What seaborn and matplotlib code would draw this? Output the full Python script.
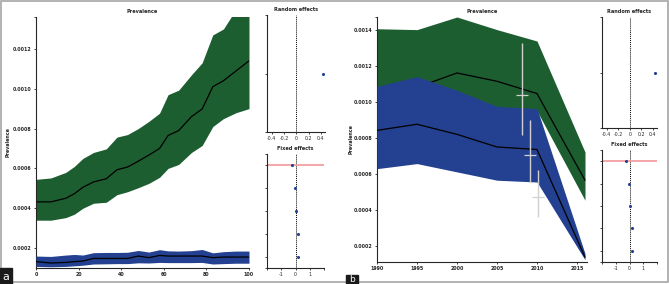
import matplotlib
matplotlib.use("Agg")
import matplotlib.pyplot as plt
import matplotlib.patches as patches
import pandas as pd
import seaborn as sns

# ---- panel a: prevalence over time (index 0-100)
a_x = [0, 7, 14, 18, 22, 27, 33, 38, 43, 48, 53, 58, 62, 67, 73, 78, 83, 88, 94, 100]
a_green_mid = [0.000432, 0.000432, 0.00045, 0.000473, 0.000505, 0.000532, 0.000548, 0.000593,
               0.000607, 0.000636, 0.000667, 0.0007, 0.000765, 0.00079, 0.00086, 0.000898,
               0.00101, 0.00104, 0.00109, 0.00114]
a_green_hi = [0.000545, 0.000552, 0.00058, 0.00061, 0.00065, 0.00068, 0.000698, 0.000757,
              0.00077, 0.0008, 0.000836, 0.000877, 0.00097, 0.000993, 0.00107, 0.00113,
              0.00127, 0.0013, 0.0014, 0.00145]
a_green_lo = [0.00034, 0.00034, 0.000353, 0.00037, 0.0004, 0.000425, 0.00043, 0.000468,
              0.000483, 0.000503, 0.000525, 0.000555, 0.0006, 0.00062, 0.00068, 0.000715,
              0.00081, 0.00085, 0.00088, 0.0009]
a_blue_mid = [0.000132, 0.000125, 0.000128, 0.000132, 0.000135, 0.000148, 0.000148, 0.000148,
              0.000148, 0.00016, 0.000152, 0.000163, 0.00016, 0.00016, 0.00016, 0.00016,
              0.000152, 0.000155, 0.000155, 0.000155]
a_blue_hi = [0.00016, 0.000158, 0.000165, 0.000168, 0.000165, 0.000177, 0.000178, 0.000178,
             0.000179, 0.000188, 0.00018, 0.000192, 0.000186, 0.000185, 0.000187, 0.000193,
             0.000176, 0.000182, 0.000185, 0.000185]
a_blue_lo = [0.000108, 0.000106, 0.000108, 0.000111, 0.000114, 0.00012, 0.000121, 0.000122,
             0.000122, 0.000126, 0.000125, 0.000128, 0.000127, 0.000127, 0.000127, 0.000128,
             0.00012, 0.000122, 0.000124, 0.000124]

# ---- panel b: prevalence by year
b_years = [1990, 1995, 2000, 2005, 2010, 2016]
b_green_mid = [0.00104, 0.00108, 0.00116, 0.001114, 0.001046, 0.000566]
b_green_hi = [0.001405, 0.0014, 0.00147, 0.0014, 0.001337, 0.000722]
b_green_lo = [0.001, 0.00103, 0.001, 0.00096, 0.00095, 0.000455]
b_blue_mid = [0.000842, 0.000876, 0.00082, 0.00075, 0.000736, 0.00014]
b_blue_hi = [0.001086, 0.00114, 0.001064, 0.000975, 0.000963, 0.00016]
b_blue_lo = [0.00063, 0.000658, 0.000612, 0.000566, 0.000556, 0.000125]
obs_years = [2008.1, 2009.1, 2010.1]
obs_est = [0.001036, 0.000704, 0.000473]
obs_lo = [0.000815, 0.000556, 0.00036]
obs_hi = [0.001326, 0.000898, 0.000625]

# ---- forest plots (same in both panels)
random_est = [0.44]
random_row = [1]
fixed_est = [-0.24, -0.05, 0.05, 0.17, 0.17]
fixed_row = [5, 4, 3, 2, 1]
fixed_lo = [-3.0, -0.1, 0.0, 0.12, 0.12]
fixed_hi = [3.0, 0.0, 0.1, 0.22, 0.22]

GREEN = "#1d5e31"
BLUE = "#234190"
FS = 3.4

sns.set_style("ticks")
plt.rcParams["font.family"] = ["DejaVu Sans"]
plt.rcParams["axes.linewidth"] = 0.8
plt.rcParams["xtick.major.size"] = 1.6
plt.rcParams["ytick.major.size"] = 1.6
plt.rcParams["xtick.major.width"] = 0.6
plt.rcParams["ytick.major.width"] = 0.6
plt.rcParams["xtick.major.pad"] = 1.5
plt.rcParams["ytick.major.pad"] = 1.5

W, H = 669, 284
fig = plt.figure(figsize=(W / 100, H / 100), dpi=100)


def px_axes(x0, y0, x1, y1):
    return fig.add_axes([x0 / W, 1 - y1 / H, (x1 - x0) / W, (y1 - y0) / H])


def style(ax):
    sns.despine(ax=ax)
    for lab in ax.get_xticklabels() + ax.get_yticklabels():
        lab.set_fontsize(FS)


def main_plot(ax, x, g_mid, g_lo, g_hi, b_mid, b_lo, b_hi, ylim, xlim):
    # draw order: green band, green line, blue band (covers green line), blue line
    ax.fill_between(x, g_lo, g_hi, color=GREEN, lw=0, zorder=1)
    sns.lineplot(x=x, y=g_mid, ax=ax, color="black", lw=0.9, zorder=2)
    ax.fill_between(x, b_lo, b_hi, color=BLUE, lw=0, zorder=3)
    sns.lineplot(x=x, y=b_mid, ax=ax, color="black", lw=0.9, zorder=4)
    ax.set_xlim(*xlim)
    ax.set_ylim(*ylim)
    ax.set_title("Prevalence", fontsize=FS + 0.2, fontweight="bold", pad=3)
    ax.set_ylabel("Prevalence", fontsize=FS, fontweight="bold")
    ticks = [0.0002, 0.0004, 0.0006, 0.0008, 0.0010, 0.0012]
    if ylim[1] > 0.00142:
        ticks.append(0.0014)
    ax.set_yticks(ticks + [ylim[1]])
    ax.set_yticklabels([f"{t:.4f}" for t in ticks] + [""], fontweight="bold")
    style(ax)
    for lab in ax.get_xticklabels():
        lab.set_fontweight("bold")


def forest(ax_r, ax_f):
    ax_r.axvline(0, color="black", ls=(0, (1, 1)), lw=0.7)
    ax_r.errorbar(random_est, random_row, xerr=0.02, fmt="none", ecolor=BLUE, elinewidth=0.7)
    sns.scatterplot(x=random_est, y=random_row, ax=ax_r, color=BLUE, s=5, linewidth=0, zorder=3)
    ax_r.set_xlim(-0.48, 0.47)
    ax_r.set_ylim(0, 2)
    ax_r.set_yticks([0, 1, 2])
    ax_r.set_yticklabels([])
    ax_r.set_xticks([-0.4, -0.2, 0, 0.2, 0.4])
    ax_r.set_xticklabels(["-0.4", "-0.2", "0", "0.2", "0.4"])
    ax_r.set_title("Random effects", fontsize=FS + 0.2, fontweight="bold", pad=3)
    style(ax_r)

    ax_f.axvline(0, color="black", ls=(0, (1, 1)), lw=0.7)
    for est, row, lo, hi in zip(fixed_est, fixed_row, fixed_lo, fixed_hi):
        wide = hi - lo > 1
        ax_f.hlines(row, lo, hi, color="#f2a0a0" if wide else BLUE, lw=1.3 if wide else 0.7)
    sns.scatterplot(x=fixed_est, y=fixed_row, ax=ax_f, color=BLUE, s=5, linewidth=0, zorder=3)
    ax_f.set_xlim(-2, 2)
    ax_f.set_ylim(0.5, 5.5)
    ax_f.set_yticks([0.5, 1, 2, 3, 4, 5, 5.5])
    ax_f.set_yticklabels([])
    ax_f.set_xticks([-2, -1, 0, 1, 2])
    ax_f.set_xticklabels(["", "-1", "0", "1", ""])
    ax_f.set_title("Fixed effects", fontsize=FS + 0.2, fontweight="bold", pad=3)
    style(ax_f)


# panel a
ax_a = px_axes(36, 17, 249, 268)
main_plot(ax_a, a_x, a_green_mid, a_green_lo, a_green_hi,
          a_blue_mid, a_blue_lo, a_blue_hi, (0.0001, 0.00136), (0, 100))
ax_a.set_xticks([0, 20, 40, 60, 80, 100])
ax_a.set_xticklabels(["0", "20", "40", "60", "80", "100"], fontsize=FS, fontweight="bold")
ax_a.yaxis.set_label_coords(-0.12, 0.5)
forest(px_axes(267, 15, 325, 132), px_axes(267, 154, 324, 268))

# panel b
ax_b = px_axes(377, 17, 587, 262)
main_plot(ax_b, b_years, b_green_mid, b_green_lo, b_green_hi,
          b_blue_mid, b_blue_lo, b_blue_hi, (0.000113, 0.00147), (1990, 2016.25))
ax_b.errorbar(obs_years, obs_est, yerr=[[e - l for e, l in zip(obs_est, obs_lo)],
                                        [h - e for h, e in zip(obs_hi, obs_est)]],
              fmt="_", color="#d0d0d0", ms=8, mew=0.9, elinewidth=1.0, capsize=0, zorder=5)
ax_b.set_xticks([1990, 1995, 2000, 2005, 2010, 2015])
ax_b.set_xticklabels(["1990", "1995", "2000", "2005", "2010", "2015"], fontsize=FS, fontweight="bold")
ax_b.yaxis.set_label_coords(-0.113, 0.5)
forest(px_axes(602, 17, 657, 128), px_axes(602, 150, 657, 262))

# frame and panel labels
fig.patches.append(patches.Rectangle((0.8 / W, 1 - 282 / H), 667.5 / W, 281 / H,
                                     transform=fig.transFigure, fill=False,
                                     edgecolor="#a6a6a6", lw=1.2))
for lab, x0, y0, w, h in [("a", 0, 268, 12, 16), ("b", 346, 275, 12, 9)]:
    fig.patches.append(patches.Rectangle((x0 / W, 1 - (y0 + h) / H), w / W, h / H,
                                         transform=fig.transFigure, color="#1a1a1a", zorder=5))
    fig.text((x0 + w / 2) / W, 1 - (y0 + h / 2 + 0.5) / H, lab, color="white",
             fontsize=8 if lab == "a" else 6.5, ha="center", va="center", zorder=6)

fig.savefig("out.png", dpi=100)
